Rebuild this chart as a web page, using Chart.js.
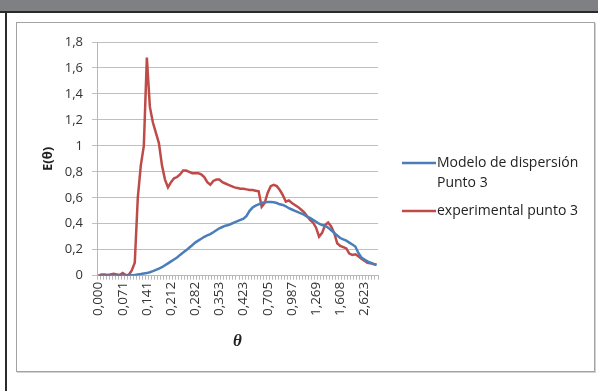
<!DOCTYPE html>
<html>
<head>
<meta charset="utf-8">
<script src="https://cdn.jsdelivr.net/npm/chart.js@4"></script>
<style>
  html, body { margin: 0; padding: 0; background: #fff; }
  body { width: 598px; height: 391px; position: relative; overflow: hidden; }
  .topbar { position: absolute; left: 0; top: 0; width: 598px; height: 11px; background: #7f8083; border-bottom: 2px solid #2a2a2a; }
  .leftrule { position: absolute; left: 5px; top: 11px; width: 2px; height: 380px; background: #2a2a2a; }
  .panel { position: absolute; left: 16px; top: 22px; width: 577px; height: 348px; border: 1px solid #a3a3a3; box-shadow: 1px 1px 0 #d2d2d2; background: #fff; }
  #wrap { position: absolute; left: 0; top: 0; width: 598px; height: 391px; }
</style>
</head>
<body>
<div class="topbar"></div>
<div class="leftrule"></div>
<div class="panel"></div>
<div id="wrap"><canvas id="c" width="598" height="391"></canvas></div>
<script>
// θ axis: one category per measurement, a label shown every 8th category
const thetaLabels = ['0,000', '0,071', '0,141', '0,212', '0,282', '0,353',
                     '0,423', '0,705', '0,987', '1,269', '1,608', '2,623'];
const labelEvery = 8;
const yTicks = [0, 0.2, 0.4, 0.6, 0.8, 1, 1.2, 1.4, 1.6, 1.8];

// E(θ) — dispersion model, punto 3
const modelo = [
  0, 0, 0, 0, 0, 0, 0, 0, 0, 0, 0,
  0.003, 0.006, 0.01, 0.013, 0.017, 0.02, 0.027, 0.035, 0.045, 0.055,
  0.065, 0.08, 0.095, 0.11, 0.125, 0.14, 0.16, 0.178, 0.195, 0.215,
  0.235, 0.255, 0.27, 0.285, 0.30, 0.31, 0.32, 0.335, 0.35, 0.365,
  0.375, 0.385, 0.39, 0.40, 0.41, 0.42, 0.43, 0.44, 0.46, 0.50,
  0.525, 0.54, 0.55, 0.56, 0.565, 0.568, 0.568, 0.565, 0.56, 0.55,
  0.545, 0.535, 0.52, 0.51, 0.50, 0.49, 0.48, 0.47, 0.455, 0.445,
  0.43, 0.415, 0.40, 0.39, 0.385, 0.37, 0.35, 0.33, 0.31, 0.29,
  0.28, 0.27, 0.255, 0.24, 0.225, 0.175, 0.14, 0.125, 0.11, 0.10,
  0.09, 0.085
];

// E(θ) — experimental, punto 3
const experimental = [
  0, 0.01, 0.01, 0.005, 0.01, 0.015, 0.01, 0.005, 0.02, 0.005, 0.005,
  0.04, 0.10, 0.60, 0.85, 1.00, 1.68, 1.30, 1.18, 1.10, 1.02,
  0.85, 0.74, 0.68, 0.72, 0.75, 0.76, 0.78, 0.81, 0.81, 0.80,
  0.79, 0.79, 0.79, 0.78, 0.76, 0.72, 0.70, 0.73, 0.74, 0.74,
  0.72, 0.71, 0.70, 0.69, 0.68, 0.675, 0.67, 0.67, 0.665, 0.66,
  0.66, 0.655, 0.65, 0.53, 0.56, 0.64, 0.69, 0.70, 0.69, 0.66,
  0.62, 0.57, 0.58, 0.56, 0.545, 0.53, 0.51, 0.49, 0.46, 0.43,
  0.41, 0.37, 0.30, 0.33, 0.39, 0.41, 0.38, 0.33, 0.25, 0.23,
  0.22, 0.21, 0.17, 0.16, 0.165, 0.15, 0.13, 0.115, 0.10, 0.095,
  0.09, 0.085
];

const seriesNames = [['Modelo de dispersión', 'Punto 3'], ['experimental punto 3']];
const BLUE = '#4a7ebb';
const RED = '#be4b48';

const categories = modelo.map((_, i) => i);
const FONT = "'Open Sans', 'Liberation Sans', sans-serif";

function fmt(v) {
  return String(Math.round(v * 10) / 10).replace('.', ',');
}

// legend drawn beside the plot, lines with the series colours
const sideLegend = {
  id: 'sideLegend',
  afterDraw(chart) {
    const ctx = chart.ctx;
    ctx.save();
    ctx.font = '14px ' + FONT;
    ctx.fillStyle = '#222';
    ctx.textBaseline = 'middle';
    ctx.lineWidth = 2.5;
    const rows = [{ y: 163, lines: seriesNames[0] }, { y: 211, lines: seriesNames[1] }];
    chart.data.datasets.forEach((ds, k) => {
      const r = rows[k];
      ctx.strokeStyle = ds.borderColor;
      ctx.beginPath();
      ctx.moveTo(402, r.y);
      ctx.lineTo(436, r.y);
      ctx.stroke();
      r.lines.forEach((t, j) => ctx.fillText(t, 437, r.y + j * 20));
    });
    ctx.restore();
  }
};

new Chart(document.getElementById('c'), {
  type: 'line',
  data: {
    labels: categories,
    datasets: [
      { label: seriesNames[0].join(' '), data: modelo, borderColor: BLUE, backgroundColor: BLUE,
        borderWidth: 2.5, pointRadius: 0, tension: 0 },
      { label: seriesNames[1].join(' '), data: experimental, borderColor: RED, backgroundColor: RED,
        borderWidth: 2.5, pointRadius: 0, tension: 0 }
    ]
  },
  options: {
    responsive: false,
    animation: false,
    events: [],
    layout: { padding: { left: 36, right: 220, top: 42, bottom: 22 } },
    plugins: { legend: { display: false }, tooltip: { enabled: false } },
    scales: {
      x: {
        offset: true,
        grid: { offset: true, drawOnChartArea: false, drawTicks: true, tickLength: 4, color: '#b8b8b8' },
        border: { color: '#b8b8b8' },
        ticks: {
          autoSkip: false, minRotation: 90, maxRotation: 90, padding: 2,
          color: '#333', font: { family: FONT, size: 13.5 },
          callback: (v, i) => (i % labelEvery === 0 ? (thetaLabels[i / labelEvery] || '') : '')
        },
        title: { display: true, text: 'θ', color: '#222', padding: { top: 0, bottom: 17 },
                 font: { family: "'Liberation Serif', serif", size: 17, weight: 'bold', style: 'italic' } },
        afterFit: s => { s.height = 391 - 22 - 275.7; }
      },
      y: {
        min: 0, max: 1.8,
        afterBuildTicks: s => { s.ticks = yTicks.map(v => ({ value: v })); },
        grid: { color: '#bfbfbf', tickLength: 5 },
        border: { color: '#b8b8b8' },
        ticks: { padding: 9, color: '#333', font: { family: FONT, size: 13 }, callback: v => fmt(v) },
        title: { display: true, text: 'E(θ)', color: '#222', padding: { top: 4, bottom: 0 },
                 font: { family: FONT, size: 13, weight: 'bold' } },
        afterFit: s => { s.width = 97 - 36; }
      }
    }
  },
  plugins: [sideLegend]
});
</script>
</body>
</html>
